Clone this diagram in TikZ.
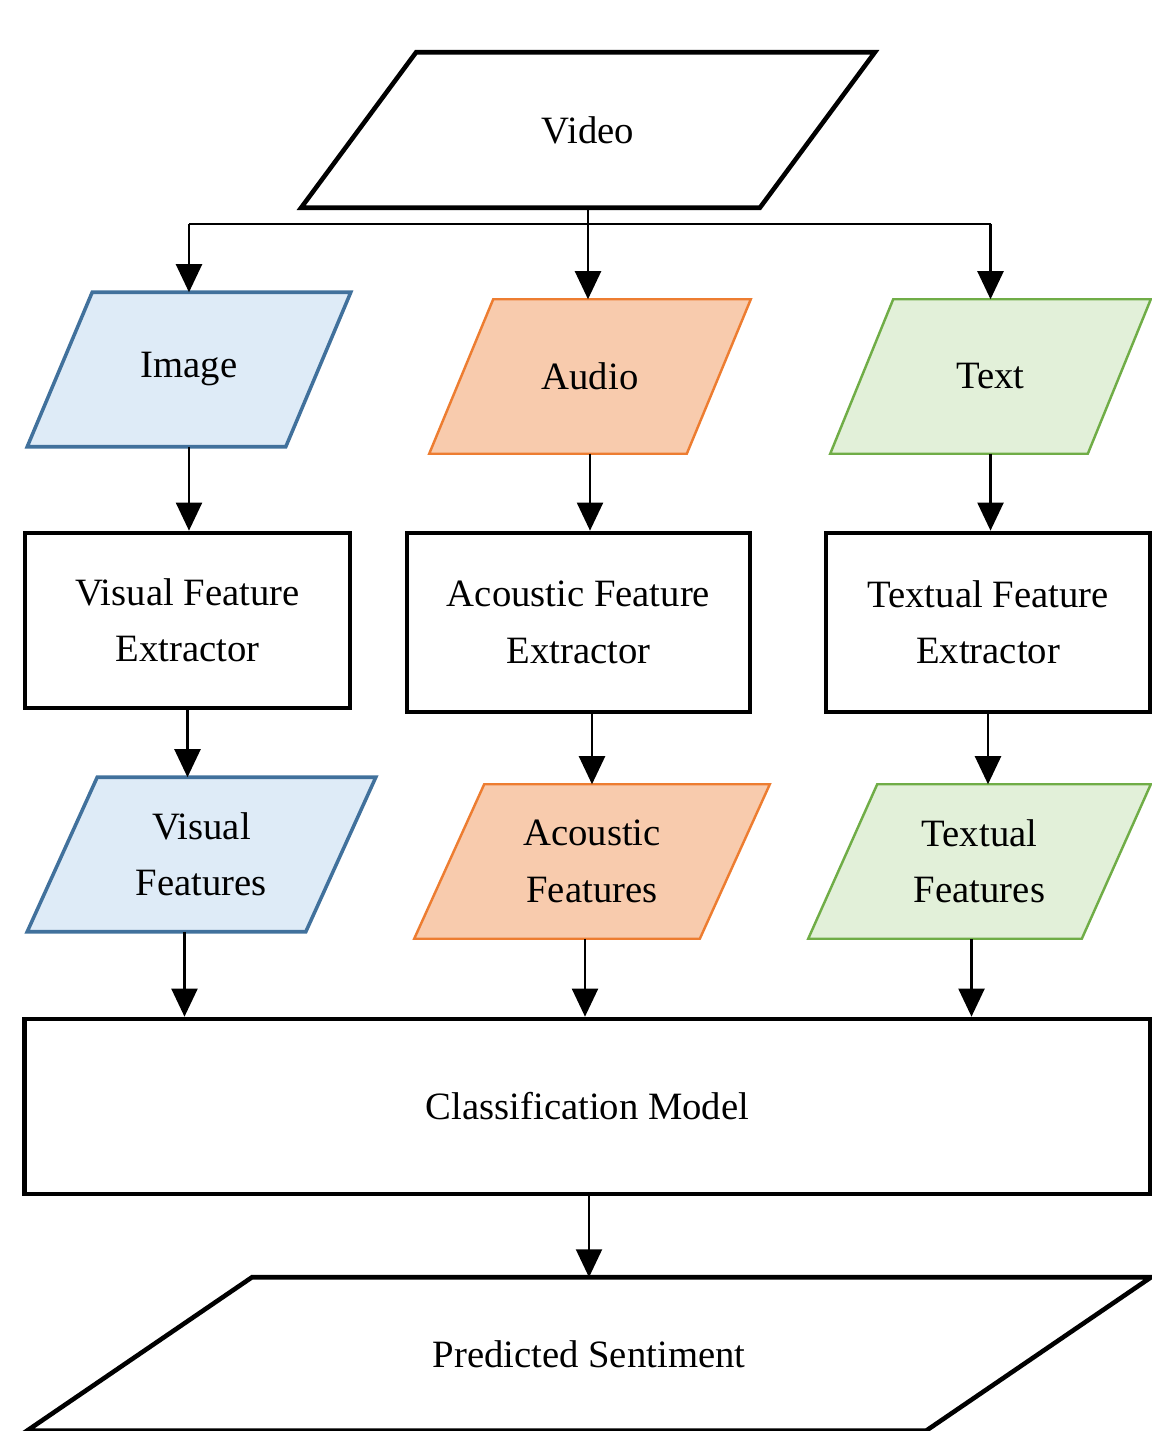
\documentclass[tikz,border=0pt]{standalone}
\usepackage{fontspec}
\setmainfont{Liberation Serif}
\usetikzlibrary{arrows.meta,calc,backgrounds}
\definecolor{bluefill}{HTML}{DEEBF7}
\definecolor{blueline}{HTML}{41719C}
\definecolor{orangefill}{HTML}{F8CBAD}
\definecolor{orangeline}{HTML}{ED7D31}
\definecolor{greenfill}{HTML}{E2F0D9}
\definecolor{greenline}{HTML}{70AD47}
% paralelogramo alrededor de un nodo: nombre, desplazamiento, estilo
\newcommand{\paraframe}[3]{%
  \draw[#3] ($(#1.north west)+(#2,0)$) -- (#1.north east)
    -- ($(#1.south east)-(#2,0)$) -- (#1.south west) -- cycle;}
\begin{document}
\begin{tikzpicture}[x=0.01cm, y=-0.01cm,
    font=\fontsize{11}{16}\selectfont,
    io/.style={align=center, inner sep=0pt},
    proc/.style={draw=black, line width=1.3pt, align=center, inner sep=0pt},
    blueio/.style={draw=blueline, fill=bluefill, line width=1pt, line join=miter},
    orangeio/.style={draw=orangeline, fill=orangefill, line width=0.7pt},
    greenio/.style={draw=greenline, fill=greenfill, line width=0.7pt},
    blackio/.style={draw=black, line width=1.3pt},
    arr/.style={-{Triangle[length=0.28cm, width=0.26cm]}, line width=0.6pt}]
    \useasboundingbox (0,0) rectangle (1151,1431);

    % Entrada
    \node[io, minimum width=5.72cm, minimum height=1.54cm] (video) at (588,130) {Video};

    % Modalidades
    \node[io, minimum width=3.22cm, minimum height=1.53cm] (image) at (189,369.5) {Image};
    \node[io, minimum width=3.2cm, minimum height=1.53cm] (audio) at (590,376.5) {Audio};
    \node[io, minimum width=3.19cm, minimum height=1.53cm] (text) at (990.5,376.5) {Text};

    % Extractores
    \node[proc, minimum width=3.25cm, minimum height=1.75cm] (vfe) at (187.5,620.5) {Visual Feature\\Extractor};
    \node[proc, minimum width=3.43cm, minimum height=1.79cm] (afe) at (578.5,622.5) {Acoustic Feature\\Extractor};
    \node[proc, minimum width=3.24cm, minimum height=1.79cm] (tfe) at (988,622.5) {Textual Feature\\Extractor};

    % Caracteristicas
    \node[io, minimum width=3.47cm, minimum height=1.53cm] (vf) at (201.5,854.5) {Visual\\Features};
    \node[io, minimum width=3.54cm, minimum height=1.53cm] (af) at (592,861.5) {Acoustic\\Features};
    \node[io, minimum width=3.41cm, minimum height=1.53cm] (tf) at (979.5,861.5) {Textual\\Features};

    % Modelo y salida
    \node[proc, minimum width=11.25cm, minimum height=1.75cm] (cm) at (587.5,1106.5) {Classification Model};
    \node[io, minimum width=11.22cm, minimum height=1.52cm] (ps) at (589,1354) {Predicted Sentiment};

    % Marcos inclinados
    \begin{scope}[on background layer]
        \paraframe{video}{115}{blackio}
        \paraframe{image}{65}{blueio}
        \paraframe{audio}{64}{orangeio}
        \paraframe{text}{63}{greenio}
        \paraframe{vf}{70}{blueio}
        \paraframe{af}{70}{orangeio}
        \paraframe{tf}{69}{greenio}
        \paraframe{ps}{225}{blackio}
    \end{scope}

    % Conexiones
    \coordinate (fork) at ($(video.south)+(0,16)$);
    \draw[line width=0.6pt] (fork -| image.north) -- (fork -| text.north);
    \draw[arr] (video.south) -- (video.south |- audio.north);
    \draw[arr] (fork -| image.north) -- (image.north);
    \draw[arr] (fork -| text.north) -- (text.north);

    \draw[arr] (image.south) -- (image.south |- vfe.north);
    \draw[arr] (audio.south) -- (audio.south |- afe.north);
    \draw[arr] (text.south) -- (text.south |- tfe.north);

    \draw[arr] (vfe.south) -- (vfe.south |- vf.north);
    \draw[arr] (af.north |- afe.south) -- (af.north);
    \draw[arr] (tfe.south) -- (tfe.south |- tf.north);

    \draw[arr] ([xshift=-0.17cm]vf.south) -- ([xshift=-0.17cm]vf.south |- cm.north);
    \draw[arr] ([xshift=-0.07cm]af.south) -- ([xshift=-0.07cm]af.south |- cm.north);
    \draw[arr] ([xshift=-0.08cm]tf.south) -- ([xshift=-0.08cm]tf.south |- cm.north);

    \draw[arr] (cm.south -| ps.north) -- (ps.north);
\end{tikzpicture}
\end{document}
